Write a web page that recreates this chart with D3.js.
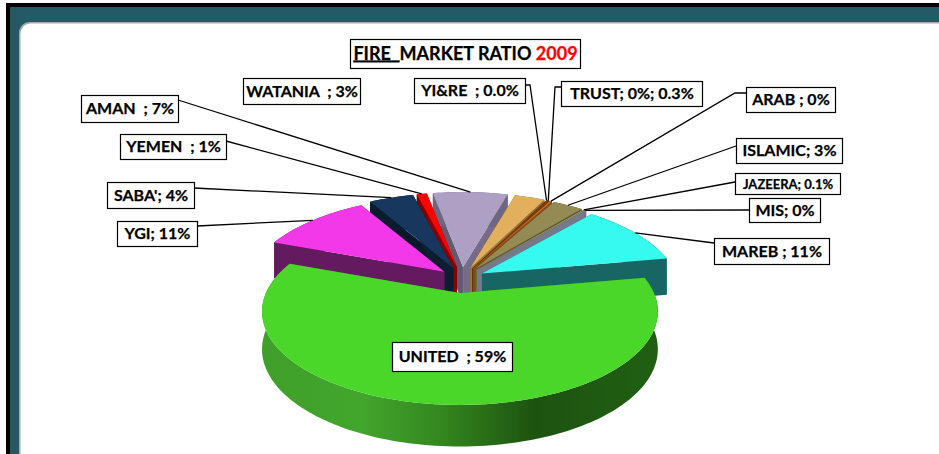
<!DOCTYPE html>
<html><head><meta charset="utf-8">
<script src="https://cdn.jsdelivr.net/npm/d3@7"></script>
<style>html,body{margin:0;padding:0;background:#fff;overflow:hidden}svg{display:block}text{font-family:Lato,"Open Sans",sans-serif;font-weight:700;fill:#000;stroke:#000;stroke-width:.25px}</style>
</head><body><svg id="c" width="939" height="454"></svg>
<script>
// ---- data (clockwise, starting at the right-hand edge of UNITED)
const categories = ["UNITED","YGI","SABA'","YEMEN","AMAN","WATANIA","YI&RE","TRUST","ARAB","ISLAMIC","JAZEERA","MIS","MAREB"];
const values     = [58.5,11,4.4,1,7.4,3,0.03,0.3,0.2,3,0.1,0.2,11];
const labels     = ["UNITED  ; 59%","YGI; 11%","SABA'; 4%","YEMEN  ; 1%","AMAN  ; 7%","WATANIA  ; 3%","YI&RE  ; 0.0%","TRUST; 0%; 0.3%","ARAB ; 0%","ISLAMIC; 3%","JAZEERA; 0.1%","MIS; 0%","MAREB ; 11%"];
// ---- styling / layout, kept apart from the data
const topColors  = ["#4bd62a","#f238e8","#17375e","#ff0000","#ae9fc4","#e2b05c","#c77a2a","#7a3d12","#d0701f","#948a54","#c9c43c","#77808f","#36f9f0"];
const wallColors = ["#2c7a1a","#631a5f","#0b1c2f","#800000","#6e6580","#8f7038","#7a4a18","#4a2509","#80450f","#5c5533","#7a7722","#6d7180","#186663"];
const boxes = { // x, y, w, h of each label box
  "UNITED":[392,342,120,29],"YGI":[117,221,80,25],"SABA'":[107,182,87,26],"YEMEN":[120,134,106,25],
  "AMAN":[81,95,97,27],"WATANIA":[243,78,117,26],"YI&RE":[414,78,111,25],"TRUST":[561,81,141,25],
  "ARAB":[746,87,89,25],"ISLAMIC":[736,138,106,25],"JAZEERA":[735,173,105,21],"MIS":[749,198,71,24],"MAREB":[714,238,115,26]};
const leaders = { // start of leader on the box, optional elbow
  "YGI":[[197,226]],"SABA'":[[194,188]],"YEMEN":[[226,141]],"AMAN":[[178,100]],
  "YI&RE":[[525,85],[530,85]],"TRUST":[[561,87],[555,87]],"ARAB":[[746,93],[735,93]],
  "ISLAMIC":[[736,146]],"JAZEERA":[[735,182]],"MIS":[[749,210]],"MAREB":[[714,243]]};

const svg = d3.select("#c");
const W = 939, H = 454;
// frame
svg.append("rect").attr("width",W).attr("height",H).attr("fill","#fff");
svg.append("rect").attr("x",6).attr("y",3).attr("width",W-6).attr("height",H).attr("fill","#000");
svg.append("rect").attr("x",10).attr("y",7).attr("width",W-10).attr("height",H).attr("fill","#245a66");
svg.append("rect").attr("x",19).attr("y",22).attr("width",W+20).attr("height",H+30).attr("rx",11).attr("fill","#a9a9a9");
svg.append("rect").attr("x",20.5).attr("y",23.5).attr("width",W+20).attr("height",H+30).attr("rx",10).attr("fill","#fff");

// pie geometry
const DEG = Math.PI/180;
const pie = d3.pie().sort(null).value(d=>d).startAngle(80*DEG).endAngle(440*DEG);
const arcs = pie(values);
const cx=462, cy=280, rx=194, ry=89.8, k=0.198, ex=23, ey=13, depth=37;
function project(theta, r, m, z){
  const u=Math.sin(theta)*r, v=-Math.cos(theta)*r, s=1/(1-k*v);
  return [cx+ex*Math.sin(m)+rx*u*s, cy-ey*Math.cos(m)+ry*v*s+(z||0)*(1+(s-1)*.5)];
}
const line=d3.line();
const defs=svg.append("defs");
const grad=defs.append("linearGradient").attr("id","gw").attr("gradientUnits","userSpaceOnUse")
  .attr("x1",263).attr("x2",657).attr("y1",0).attr("y2",0);
[[0,"#3f9f2a"],[0.25,"#42a62c"],[0.45,"#34871f"],[0.69,"#1d5310"],[1,"#206013"]].forEach(s=>grad.append("stop").attr("offset",s[0]).attr("stop-color",s[1]));

const g=svg.append("g");
const items=arcs.map((a,i)=>({a,i,m:(a.startAngle+a.endAngle)/2,order:-Math.cos((a.startAngle+a.endAngle)/2)}));
items.sort((p,q)=>p.order-q.order);
items.forEach(({a,i,m})=>{
  const n=Math.max(2,Math.ceil((a.endAngle-a.startAngle)/(1.5*DEG)));
  const th=d3.range(n+1).map(j=>a.startAngle+(a.endAngle-a.startAngle)*j/n);
  const top=th.map(t=>project(t,1,m));
  const bot=th.map(t=>project(t,1,m,depth)).reverse();
  const c0=project(0,0,m), c1=project(0,0,m,depth);
  const wall=i===0?"url(#gw)":wallColors[i];
  // radial walls
  [[a.startAngle,0.75],[a.endAngle,1.15]].forEach(([t,f])=>{
    const col=d3.color(wallColors[i]);
    g.append("path").attr("d",line([c0,project(t,1,m),project(t,1,m,depth),c1])+"Z")
     .attr("fill",(i===0||i===1||i===12)?wallColors[i]:col.brighter(f>1?0.2:-0.3)+"");
  });
  // outer wall
  g.append("path").attr("d",line(top.concat(bot))+"Z").attr("fill",wall);
  // top
  g.append("path").attr("d",line([c0].concat(top))+"Z").attr("fill",topColors[i]);
});

// leaders
const lg=svg.append("g").attr("fill","none").attr("stroke","#000").attr("stroke-width",1.3);
arcs.forEach((a,i)=>{
  const st=leaders[categories[i]]; if(!st) return;
  const m=(a.startAngle+a.endAngle)/2;
  lg.append("path").attr("d",line(st.concat([project(m,1,m)])));
});

// labels
function box(b,sel){
  sel.append("rect").attr("x",b[0]+.5).attr("y",b[1]+.5).attr("width",b[2]).attr("height",b[3])
     .attr("fill","#fff").attr("stroke","#000").attr("stroke-width",1.2);
}
const tg=svg.append("g");
categories.forEach((c,i)=>{
  const b=boxes[c]; box(b,tg);
  tg.append("text").attr("x",b[0]+b[2]/2+.5).attr("y",b[1]+b[3]/2+5.5).attr("text-anchor","middle")
    .attr("xml:space","preserve").style("white-space","pre")
    .attr("font-size",c==="JAZEERA"?13:16).text(labels[i]);
});
// title
box([350,39,230,29],tg);
const t=tg.append("text").attr("x",465.5).attr("y",59.5).attr("text-anchor","middle").attr("font-size",18).style("white-space","pre");
t.append("tspan").attr("text-decoration","underline").text("FIRE  ");
t.append("tspan").text("MARKET RATIO ");
t.append("tspan").style("fill","#ff0000").style("stroke","#ff0000").text("2009");
</script></body></html>
